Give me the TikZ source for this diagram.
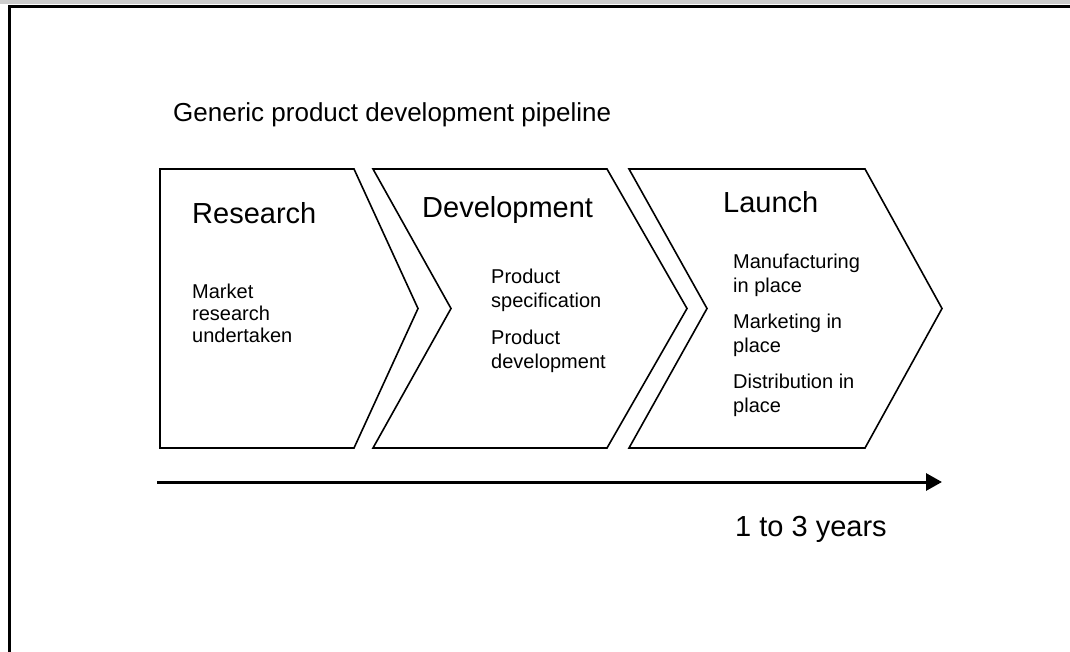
\documentclass[tikz,border=0pt]{standalone}
\usepackage{fontspec}
\setmainfont{Liberation Sans}
\usetikzlibrary{arrows.meta}
\begin{document}
\begin{tikzpicture}[x=1pt,y=-1pt,
  frame/.style={line width=3pt},
  chevron/.style={draw=black,line width=1.6pt,line join=miter},
  heading/.style={anchor=base west,inner sep=0pt,font=\fontsize{29}{33}\selectfont},
  bodytext/.style={anchor=base west,inner sep=0pt,align=left,font=\fontsize{20}{23.5}\selectfont},
  timeline/.style={line width=3pt,-{Triangle[length=16pt,width=17pt]}}]
\useasboundingbox (0,0) rectangle (1070,652);
% header strip and page frame
\fill[black!20] (0,0) rectangle (1070,4);
\coordinate (fTL) at (9.5,6.5);
\coordinate (fTR) at (1070,6.5);
\coordinate (fBL) at (9.5,652);
\draw[frame] (fBL) -- (fTL) -- (fTR);
% title
\node[anchor=base west,inner sep=0pt,font=\fontsize{26}{30}\selectfont] (title) at (173,122) {Generic product development pipeline};
% pipeline stages
\draw[chevron] (160,169) -- (354,169) -- (418,308.5) -- (354,448) -- (160,448) -- cycle;
\draw[chevron] (373,169) -- (607,169) -- (687,308.5) -- (607,448) -- (373,448) -- (451,308.5) -- cycle;
\draw[chevron] (629,169) -- (865,169) -- (942,308.5) -- (865,448) -- (629,448) -- (707,308.5) -- cycle;
\node[heading] (research) at (192,224) {Research};
\node[heading] (development) at (422,218) {Development};
\node[heading] (launch) at (723,213) {Launch};
% body texts, placed by the baseline of their last line
\node[bodytext,font=\fontsize{20}{22}\selectfont] (rtext) at (192,342) {Market\\research\\undertaken};
\node[bodytext] (dtext) at (491,368) {Product\\specification\\[14pt]Product\\development};
\node[bodytext] (ltext) at (733,412) {Manufacturing\\in place\\[13pt]Marketing in\\place\\[13pt]Distribution in\\place};
% time axis
\coordinate (tstart) at (157,482);
\coordinate (tend) at (942,482);
\draw[timeline] (tstart) -- (tend);
\node[heading] (years) at (735,536) {1 to 3 years};
\end{tikzpicture}
\end{document}
